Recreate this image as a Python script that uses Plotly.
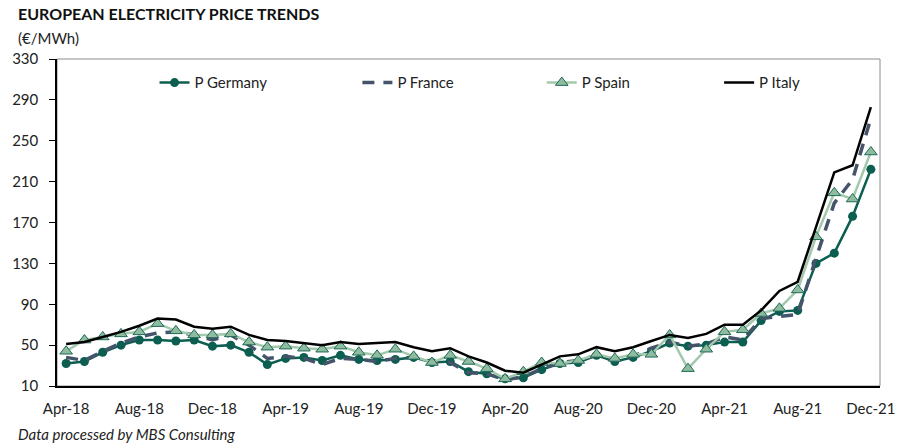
import plotly.graph_objects as go

months = ["Apr-18","May-18","Jun-18","Jul-18","Aug-18","Sep-18","Oct-18","Nov-18","Dec-18",
          "Jan-19","Feb-19","Mar-19","Apr-19","May-19","Jun-19","Jul-19","Aug-19","Sep-19","Oct-19","Nov-19","Dec-19",
          "Jan-20","Feb-20","Mar-20","Apr-20","May-20","Jun-20","Jul-20","Aug-20","Sep-20","Oct-20","Nov-20","Dec-20",
          "Jan-21","Feb-21","Mar-21","Apr-21","May-21","Jun-21","Jul-21","Aug-21","Sep-21","Oct-21","Nov-21","Dec-21"]

germany = [32, 34, 43, 50, 55, 55, 54, 55, 49, 50, 43, 31, 37, 38, 35, 40, 36, 35, 36, 38, 33,
           34, 24, 22, 17, 18, 26, 32, 33, 40, 34, 38, 44,
           52, 49, 50, 53, 53, 74, 83, 84, 130, 140, 176, 222]
france = [38, 35, 44, 52, 58, 62, 63, 60, 55, 60, 50, 37, 39, 37, 31, 37, 36, 34, 37, 38, 34,
          33, 23, 22, 16, 19, 27, 33, 35, 40, 35, 39, 47,
          53, 49, 51, 58, 55, 76, 78, 80, 135, 189, 212, 272]
spain = [44, 55, 58, 61, 63, 71, 64, 60, 60, 61, 53, 48, 49, 47, 46, 49, 43, 40, 46, 39, 33,
         40, 34, 27, 17, 24, 33, 32, 35, 41, 37, 41, 41,
         60, 27, 46, 63, 65, 81, 86, 104, 156, 199, 193, 239]
italy = [51, 53, 58, 63, 69, 76, 75, 68, 66, 68, 60, 55, 54, 52, 50, 53, 51, 52, 53, 48, 44,
         47, 39, 33, 25, 23, 31, 39, 41, 48, 44, 48, 54,
         60, 57, 61, 70, 70, 84, 103, 112, 166, 219, 226, 283]

tick_labels = ["Apr-18","Aug-18","Dec-18","Apr-19","Aug-19","Dec-19","Apr-20","Aug-20","Dec-20","Apr-21","Aug-21","Dec-21"]
y_ticks = [10, 50, 90, 130, 170, 210, 250, 290, 330]

FONT = "Lato"

fig = go.Figure()
fig.add_trace(go.Scatter(x=months, y=germany, name="P Germany", mode="lines+markers", legend="legend",
                         line=dict(color="#0B5E50", width=2.5),
                         marker=dict(symbol="circle", size=9, color="#0B5E50")))
fig.add_trace(go.Scatter(x=months, y=france, name="P France", mode="lines", legend="legend2",
                         line=dict(color="#44546A", width=3.5, dash="12px,9px")))
fig.add_trace(go.Scatter(x=months, y=spain, name="P Spain", mode="lines+markers", legend="legend3",
                         line=dict(color="#A3C9AD", width=2.5),
                         marker=dict(symbol="triangle-up", size=11, color="#8FBC9F",
                                     line=dict(color="#1F6A58", width=1))))
fig.add_trace(go.Scatter(x=months, y=italy, name="P Italy", mode="lines", legend="legend4",
                         line=dict(color="#000000", width=2.5)))

def leg(xpos):
    return dict(orientation="h", x=xpos, xanchor="left", y=0.927, yanchor="middle",
                bgcolor="rgba(0,0,0,0)", font=dict(size=15, family=FONT, color="#222222"))

fig.update_layout(
    width=907, height=447,
    margin=dict(l=46, r=17, t=59, b=61),
    paper_bgcolor="white", plot_bgcolor="white",
    font=dict(family=FONT, size=15, color="#222222"),
    showlegend=True,
    legend=leg(0.1185), legend2=leg(0.365), legend3=leg(0.589), legend4=leg(0.8045),
    xaxis=dict(type="category", categoryorder="array", categoryarray=months,
               range=[-0.5, 44.5], tickmode="array", tickvals=tick_labels, ticktext=tick_labels,
               showgrid=False, showline=True, linecolor="#000000", linewidth=1.5,
               ticks="", tickfont=dict(size=15, family=FONT, color="#222222"), ticklabelstandoff=8),
    yaxis=dict(range=[10, 330], tickmode="array", tickvals=y_ticks,
               showgrid=False, showline=True, linecolor="#000000", linewidth=1.5,
               ticks="outside", ticklen=6, tickcolor="#000000", ticklabelstandoff=8,
               tickfont=dict(size=15, family=FONT, color="#222222"), zeroline=False),
    shapes=[dict(type="rect", xref="paper", yref="paper", x0=0, x1=1, y0=0, y1=1,
                 line=dict(color="#8C8C8C", width=1), layer="below")],
    annotations=[
        dict(text="<b>EUROPEAN ELECTRICITY PRICE TRENDS</b>", xref="paper", yref="paper",
             x=-42/844, y=1 + 46/327, xanchor="left", yanchor="middle", showarrow=False,
             font=dict(size=16, family=FONT, color="#111111")),
        dict(text="(€/MWh)", xref="paper", yref="paper",
             x=-42/844, y=1 + 21/327, xanchor="left", yanchor="middle", showarrow=False,
             font=dict(size=15, family=FONT, color="#222222")),
        dict(text="<i>Data processed by MBS Consulting</i>", xref="paper", yref="paper",
             x=-42/844, y=-48/327, xanchor="left", yanchor="middle", showarrow=False,
             font=dict(size=15, family=FONT, color="#222222")),
    ],
)

fig.write_html("out.html", config={"displayModeBar": False},
               post_script="document.body.style.margin='0';document.body.style.padding='0';")
